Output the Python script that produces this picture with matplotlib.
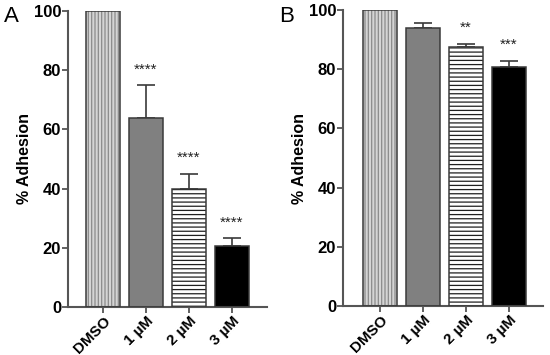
import matplotlib.pyplot as plt
import numpy as np

# data
groups = ['DMSO', '1 µM', '2 µM', '3 µM']
adh_a = [100, 63.7, 39.9, 20.5]
err_a = [0, 11.2, 5.2, 2.7]
stars_a = ['', '****', '****', '****']
adh_b = [100, 93.8, 87.5, 80.8]
err_b = [0, 1.8, 1.1, 2.1]
stars_b = ['', '', '**', '***']

plt.rcParams['font.family'] = ['Liberation Sans', 'DejaVu Sans']
plt.rcParams['hatch.linewidth'] = 0.9

fills = ['#d4d4d4', '#808080', 'white', 'black']
hatch_colors = ['#8a8a8a', '#808080', '#202020', 'black']
hatches = ['|||||', '', '----', '']
edge = '#3a3a3a'
axc = '#555555'


def draw_panel(ax, vals, errs, stars, xlim):
    x = np.arange(len(groups))
    # fill + hatch
    ax.bar(x, vals, width=0.79, color=fills, edgecolor=hatch_colors,
           hatch=hatches, linewidth=0, zorder=2)
    # outline
    ax.bar(x, vals, width=0.79, fill=False, edgecolor=edge, linewidth=1.1, zorder=3)
    for i in range(1, len(vals)):
        ax.errorbar(x[i], vals[i], yerr=[[0], [errs[i]]], fmt='none',
                    ecolor=edge, elinewidth=1.2, capsize=6.5, capthick=1.2, zorder=1)
        if stars[i]:
            ax.text(x[i], vals[i] + errs[i] + 3.0, stars[i], ha='center', va='bottom',
                    fontsize=11, color='#222222')
    ax.set_ylim(0, 100)
    ax.set_xlim(*xlim)
    ax.set_yticks([0, 20, 40, 60, 80, 100])
    ax.set_xticks(x)
    ax.set_xticklabels(groups, rotation=45, ha='right', rotation_mode='anchor',
                       fontweight='bold', fontsize=11)
    for lab in ax.get_yticklabels():
        lab.set_fontweight('bold')
        lab.set_fontsize(12)
    ax.set_ylabel('% Adhesion', fontweight='bold', fontsize=11.5, labelpad=1)
    for s in ['top', 'right']:
        ax.spines[s].set_visible(False)
    for s in ['left', 'bottom']:
        ax.spines[s].set_color(axc)
        ax.spines[s].set_linewidth(1.5)
    ax.tick_params(axis='both', color=axc, width=1.3, length=4, pad=1)


fig = plt.figure(figsize=(5.5, 3.55), dpi=100)
ax1 = fig.add_axes([68 / 550, 48 / 355, 199 / 550, 296 / 355])
ax2 = fig.add_axes([343 / 550, 49 / 355, 200 / 550, 296 / 355])

draw_panel(ax1, adh_a, err_a, stars_a, (-0.814, 3.814))
draw_panel(ax2, adh_b, err_b, stars_b, (-0.86, 3.79))

fig.text(4 / 550, 1 - 6 / 355, 'A', fontsize=16, ha='left', va='top')
fig.text(279 / 550, 1 - 6 / 355, 'B', fontsize=16, ha='left', va='top')

fig.savefig('out.png', dpi=100)
